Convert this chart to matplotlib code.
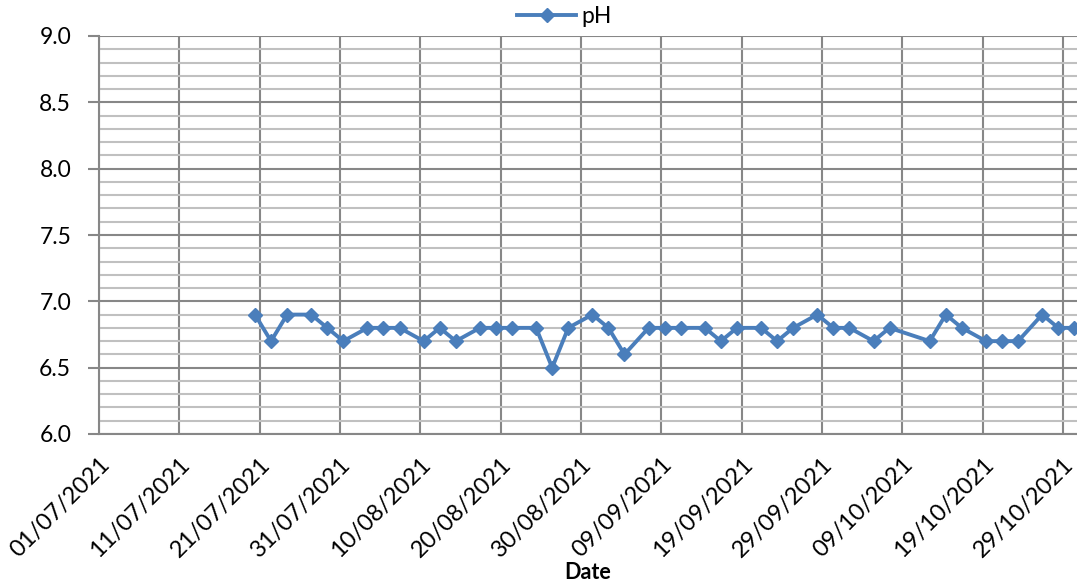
import matplotlib
matplotlib.use('Agg')
import matplotlib.pyplot as plt
from matplotlib.ticker import MultipleLocator
import pandas as pd

plt.rcParams['font.family'] = ['Lato', 'DejaVu Sans']

# sample dates and pH readings
dates = ['20/07/2021', '22/07/2021', '24/07/2021', '27/07/2021', '29/07/2021', '31/07/2021',
         '03/08/2021', '05/08/2021', '07/08/2021', '10/08/2021', '12/08/2021', '14/08/2021',
         '17/08/2021', '19/08/2021', '21/08/2021', '24/08/2021', '26/08/2021', '28/08/2021',
         '31/08/2021', '02/09/2021', '04/09/2021', '07/09/2021', '09/09/2021', '11/09/2021',
         '14/09/2021', '16/09/2021', '18/09/2021', '21/09/2021', '23/09/2021', '25/09/2021',
         '28/09/2021', '30/09/2021', '02/10/2021', '05/10/2021', '07/10/2021', '12/10/2021',
         '14/10/2021', '16/10/2021', '19/10/2021', '21/10/2021', '23/10/2021', '26/10/2021',
         '28/10/2021', '30/10/2021']
ph = [6.9, 6.7, 6.9, 6.9, 6.8, 6.7,
      6.8, 6.8, 6.8, 6.7, 6.8, 6.7,
      6.8, 6.8, 6.8, 6.8, 6.5, 6.8,
      6.9, 6.8, 6.6, 6.8, 6.8, 6.8,
      6.8, 6.7, 6.8, 6.8, 6.7, 6.8,
      6.9, 6.8, 6.8, 6.7, 6.8, 6.7,
      6.9, 6.8, 6.7, 6.7, 6.7, 6.9,
      6.8, 6.8]

tick_labels = ['01/07/2021', '11/07/2021', '21/07/2021', '31/07/2021', '10/08/2021',
               '20/08/2021', '30/08/2021', '09/09/2021', '19/09/2021', '29/09/2021',
               '09/10/2021', '19/10/2021', '29/10/2021']

x = pd.to_datetime(dates, format='%d/%m/%Y') + pd.Timedelta(hours=10)
ticks = pd.to_datetime(tick_labels, format='%d/%m/%Y')

fig = plt.figure(figsize=(10.77, 5.87), dpi=100)
ax = fig.add_axes([99 / 1077, 1 - 434 / 587, 1 - 99 / 1077, (434 - 36) / 587])

major_c = '#878787'
minor_c = '#c0c0c0'

ax.plot(x, ph, color='#4a7ebb', lw=2.8, marker='D', markersize=7.5, label='pH',
        clip_on=True, zorder=3)

ax.set_xlim(ticks[0], ticks[0] + pd.Timedelta(days=121.75))
ax.set_ylim(6.0, 9.0)
ax.set_xticks(ticks)
ax.set_xticklabels(tick_labels, rotation=45, ha='right', rotation_mode='anchor')
ax.yaxis.set_major_locator(MultipleLocator(0.5))
ax.yaxis.set_minor_locator(MultipleLocator(0.1))
ax.yaxis.set_major_formatter(matplotlib.ticker.FormatStrFormatter('%.1f'))

ax.grid(which='major', axis='both', color=major_c, lw=1.5)
ax.grid(which='minor', axis='y', color=minor_c, lw=1.5)
ax.set_axisbelow(True)

ax.tick_params(axis='y', which='major', length=8, width=1.5, color=major_c,
               labelsize=16.5, pad=12)
ax.tick_params(axis='y', which='minor', length=0)
ax.tick_params(axis='x', length=0, labelsize=17, pad=14)

for s in ['top', 'right']:
    ax.spines[s].set_visible(False)
for s in ['left', 'bottom']:
    ax.spines[s].set_color(major_c)
    ax.spines[s].set_linewidth(1.5)

ax.set_xlabel('Date', fontsize=15.5, fontweight='bold', labelpad=1)

fig.legend(loc='upper center', bbox_to_anchor=(564 / 1077, 1.025), frameon=False,
           fontsize=16.5, handlelength=2.6, handletextpad=0.2)

fig.savefig('out.png', dpi=100)
